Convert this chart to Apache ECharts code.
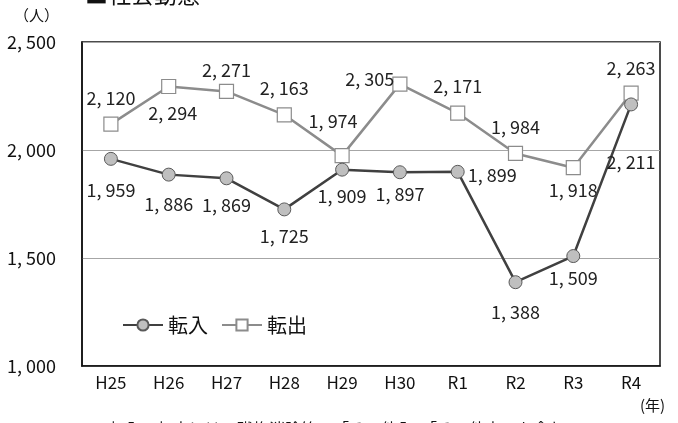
<!DOCTYPE html>
<html><head><meta charset="utf-8">
<script src="https://cdn.jsdelivr.net/npm/echarts@6/dist/echarts.min.js"></script>
<style>html,body{margin:0;padding:0;background:#fff}#c{width:678px;height:423px}</style>
</head><body><div id="c"></div>
<script>
const categories = ['H25','H26','H27','H28','H29','H30','R1','R2','R3','R4'];
const tennyu = [1959,1886,1869,1725,1909,1897,1899,1388,1509,2211];
const tenshutsu = [2120,2294,2271,2163,1974,2305,2171,1984,1918,2263];
const yTicks = [1000,1500,2000,2500];

const FONT = '"Noto Sans CJK JP", sans-serif';
const fmt = v => String(v).replace(/\B(?=(\d{3})+(?!\d))/g, ', ');

const inPos = ['bottom','bottom','bottom','bottom','bottom','bottom','right','bottom','bottom','bottom'];
const inOff = [[0,10],[0,9],[0,6],[0,6],[0,6],[0,1],[-2,3],[0,9],[0,1],[0,37]];
const outPos = ['top','bottom','top','top','top','left','top','top','bottom','top'];
const outOff = [[0,-4],[4,5],[0,0],[0,-5],[-9,-13],[7,-5],[0,-5],[0,-5],[0,1],[0,-3]];

const chart = echarts.init(document.getElementById('c'));
const lbl = {show:true, fontSize:18, color:'#222', fontFamily:FONT, formatter:p=>fmt(p.value)};
chart.setOption({
  animation:false,
  textStyle:{fontFamily:FONT},
  grid:{left:82,right:18,top:42,bottom:57,show:true,borderColor:'#111',borderWidth:1.5,containLabel:false,outerBoundsMode:'none'},
  legend:{left:117,top:310,itemWidth:40,itemHeight:14,itemGap:13,
    textStyle:{fontSize:20,color:'#111',fontFamily:FONT},
    data:['転入','転出']},
  xAxis:{type:'category',data:categories,boundaryGap:true,
    axisLine:{show:true,lineStyle:{color:'#111',width:1.5}},axisTick:{show:false},
    axisLabel:{fontSize:17,color:'#111',margin:8,fontFamily:FONT}},
  yAxis:{type:'value',min:yTicks[0],max:yTicks[yTicks.length-1],interval:500,
    axisLine:{show:true,lineStyle:{color:'#111',width:1.5}},axisTick:{show:false},
    splitLine:{show:true,lineStyle:{color:'#a6a6a6',width:1.2}},
    axisLabel:{fontSize:18,color:'#111',margin:26,fontFamily:FONT,formatter:v=>fmt(v)}},
  series:[
    {name:'転入',type:'line',data:tennyu.map((v,i)=>({value:v,label:{position:inPos[i],offset:inOff[i]}})),
      symbol:'circle',symbolSize:13,
      lineStyle:{color:'#404040',width:2.5},
      itemStyle:{color:'#bfbfbf',borderColor:'#595959',borderWidth:1},
      label:lbl,z:3},
    {name:'転出',type:'line',data:tenshutsu.map((v,i)=>({value:v,label:{position:outPos[i],offset:outOff[i]}})),
      symbol:'rect',symbolSize:14,
      lineStyle:{color:'#8c8c8c',width:2.5},
      itemStyle:{color:'#ffffff',borderColor:'#8c8c8c',borderWidth:1.2},
      label:lbl,z:2}
  ],
  graphic:[
    {type:'text',left:85,top:-17,style:{text:'■社会動態',fontSize:23,fill:'#111',fontFamily:FONT}},
    {type:'text',left:14,top:8,style:{text:'（人）',fontSize:15,fill:'#111',fontFamily:FONT}},
    {type:'text',left:640,top:398,style:{text:'(年)',fontSize:15,fill:'#111',fontFamily:FONT}},
    {type:'text',left:93,top:421,style:{text:'※転入・転出には、職権消除等の「その他入」「その他出」を含む',fontSize:16,fill:'#111',fontFamily:FONT}}
  ]
});
</script></body></html>
